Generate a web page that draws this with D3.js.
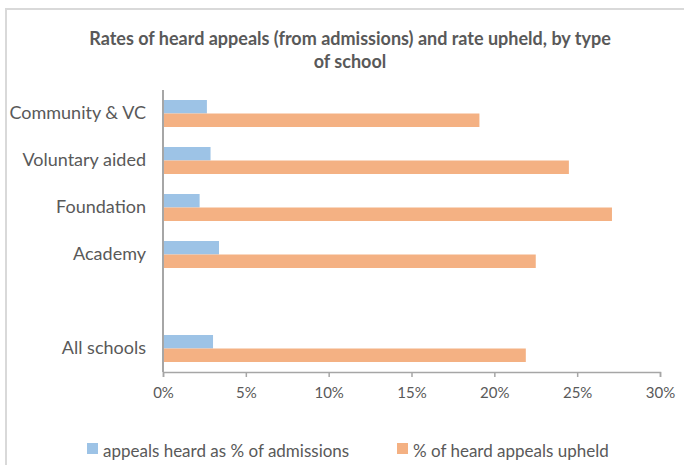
<!DOCTYPE html>
<html>
<head>
<meta charset="utf-8">
<script src="https://cdn.jsdelivr.net/npm/d3@7"></script>
<style>
  html, body { margin: 0; padding: 0; background: #fff; }
  svg { display: block; }
  text { font-family: Lato, "Open Sans", sans-serif; }
</style>
</head>
<body>
<svg id="chart" width="684" height="465"></svg>
<script>
// ---- data ----
const categories = ["Community & VC", "Voluntary aided", "Foundation", "Academy", "", "All schools"];
const seriesNames = ["appeals heard as % of admissions", "% of heard appeals upheld"];
const heardRate  = [0.0265, 0.0287, 0.0221, 0.0338, null, 0.0302];
const upheldRate = [0.191, 0.245, 0.271, 0.225, null, 0.219];
const xTicks = [0, 0.05, 0.10, 0.15, 0.20, 0.25, 0.30];
const titleLines = ["Rates of heard appeals (from admissions) and rate upheld, by type", "of school"];
const colors = ["#9DC3E6", "#F4B183"];

const svg = d3.select("#chart");

// chart border
svg.append("rect")
  .attr("x", 6).attr("y", 9).attr("width", 700).attr("height", 480)
  .attr("fill", "none").attr("stroke", "#D9D9D9").attr("stroke-width", 2);

// title
svg.append("text")
  .attr("x", 350).attr("y", 45)
  .attr("text-anchor", "middle")
  .attr("font-size", 18).attr("font-weight", "bold").attr("fill", "#595959")
  .selectAll("tspan").data(titleLines).join("tspan")
  .attr("x", 350).attr("dy", (d, i) => i === 0 ? 0 : 23)
  .text(d => d);

const plot = { left: 163, right: 660, top: 90, bottom: 372 };

const x = d3.scaleLinear().domain([0, 0.30]).range([plot.left, plot.right]);
const y = d3.scaleBand().domain(categories).range([plot.top, plot.bottom])
  .paddingInner(0.4255).paddingOuter(0.2128);
const ySub = d3.scaleBand().domain([0, 1]).range([0, y.bandwidth()]);

const rows = categories.map((c, i) => ({ cat: c, vals: [heardRate[i], upheldRate[i]] }));

const g = svg.append("g");
rows.forEach(r => {
  r.vals.forEach((v, s) => {
    if (v == null) return;
    g.append("rect")
      .attr("x", x(0))
      .attr("y", y(r.cat) + ySub(s))
      .attr("width", x(v) - x(0))
      .attr("height", ySub.bandwidth())
      .attr("fill", colors[s]);
  });
});

// x axis
const xAxis = d3.axisBottom(x).tickValues(xTicks).tickFormat(d3.format(".0%")).tickSize(5).tickSizeOuter(5);
const xg = svg.append("g").attr("transform", `translate(0,${plot.bottom})`).call(xAxis);
xg.select(".domain").attr("stroke", "#A6A6A6").attr("stroke-width", 1.5);
xg.selectAll(".tick line").attr("stroke", "#A6A6A6").attr("stroke-width", 1.5);
xg.selectAll(".tick text").attr("fill", "#595959").attr("font-size", 15)
  .attr("font-family", "Lato, sans-serif").attr("dy", 0).attr("y", 26);

// y axis
const yAxis = d3.axisLeft(y).tickSize(0).tickPadding(17);
const yg = svg.append("g").attr("transform", `translate(${plot.left},0)`).call(yAxis);
yg.select(".domain").attr("stroke", "#A6A6A6").attr("stroke-width", 2)
  .attr("d", `M0,${plot.top}V${plot.bottom}`);
yg.selectAll(".tick text").attr("fill", "#595959").attr("font-size", 18)
  .attr("font-family", "Lato, sans-serif");

// legend
const legendX = [87, 397];
const lg = svg.append("g");
seriesNames.forEach((n, i) => {
  lg.append("rect").attr("x", legendX[i]).attr("y", 443).attr("width", 11).attr("height", 11).attr("fill", colors[i]);
  lg.append("text").attr("x", legendX[i] + 16).attr("y", 457)
    .attr("font-size", 17).attr("fill", "#595959").text(n);
});
</script>
</body>
</html>
